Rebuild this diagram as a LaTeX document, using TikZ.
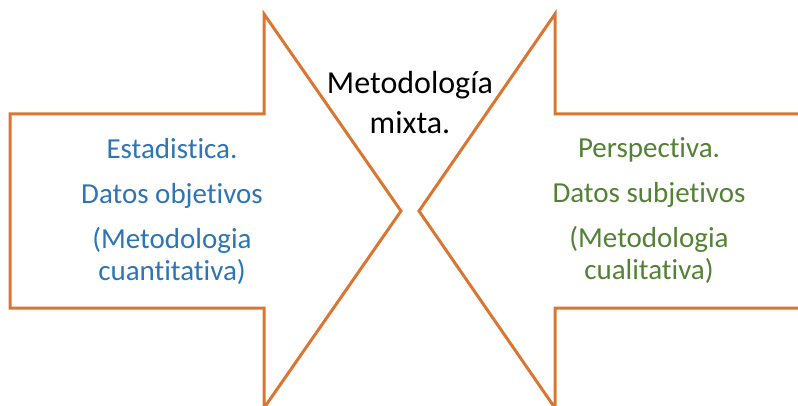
\documentclass[tikz,border=0pt]{standalone}
\usepackage{fontspec}
\setmainfont{Carlito}[Ligatures=NoCommon]
\usepackage{xcolor}
\usepackage{tikz}
\definecolor{naranja}{RGB}{218,118,50}
\definecolor{azul}{RGB}{46,117,182}
\definecolor{verde}{RGB}{84,130,53}

\begin{document}
\begin{tikzpicture}[x=1pt,y=-1pt,
    flecha/.style={draw=naranja,line width=3pt,fill=white,line join=miter},
    texto/.style={align=center,font=\fontsize{29}{32}\selectfont}]
  \useasboundingbox (0,0) rectangle (798,406);
  \clip (0,0) rectangle (798,406);
  % flecha izquierda (apunta a la derecha)
  \draw[flecha] (10,114) -- (264,114) -- (264,14) -- (401,211) -- (264,408)
    -- (264,308) -- (10,308) -- cycle;
  % flecha derecha (apunta a la izquierda)
  \draw[flecha] (812,114) -- (555,114) -- (555,14) -- (419,211) -- (555,408)
    -- (555,308) -- (812,308) -- cycle;
  \node[texto,text=azul] (cuanti) at (172,211)
    {Estadistica.\\[13pt] Datos objetivos\\[13pt] (Metodologia\\ cuantitativa)};
  \node[texto,text=verde] (cuali) at (649,211)
    {Perspectiva.\\[13pt] Datos subjetivos\\[13pt] (Metodologia\\ cualitativa)};
  \node[align=center,font=\fontsize{32}{40}\selectfont] (mixta) at (410,103)
    {Metodología\\ mixta.};
\end{tikzpicture}
\end{document}
